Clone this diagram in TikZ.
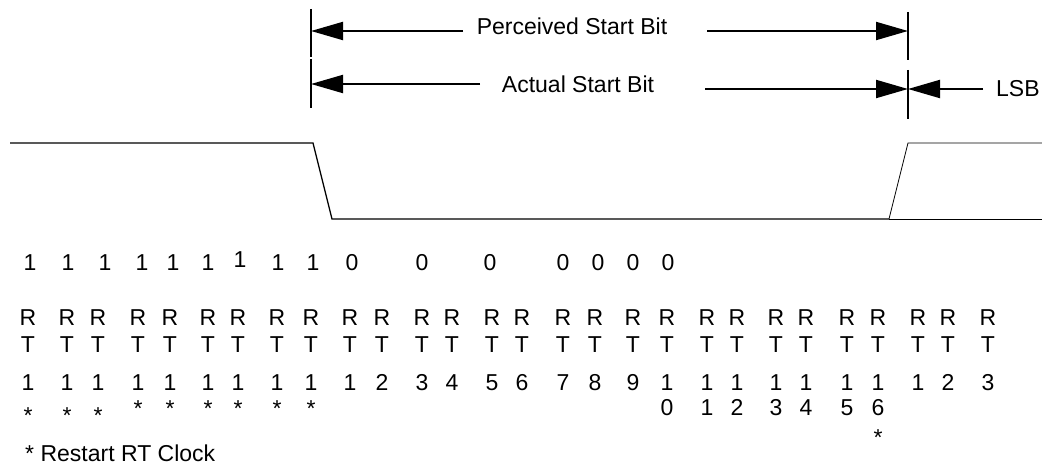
\documentclass[tikz,border=0pt]{standalone}
\usepackage{fontspec}
\setmainfont{Liberation Sans}
\usetikzlibrary{arrows.meta,positioning}

\begin{document}
\begin{tikzpicture}[x=1pt, y=-1pt,
  txt/.style={font=\fontsize{23}{27}\selectfont, inner sep=0pt, anchor=base},
  dimarr/.style={line width=2pt, -{Triangle[length=32pt,width=18pt]}},
  tickln/.style={line width=2pt},
  wave/.style={line width=1.3pt},
  thinwave/.style={line width=0.8pt}]
  \useasboundingbox (0,0) rectangle (1042,468);

  \draw[tickln] (311,9) -- (311,57) (311,59) -- (311,108);
  \draw[tickln] (908,12) -- (908,60) (908,70) -- (908,119);
  \coordinate (percL) at (311,31);
  \coordinate (percR) at (908,31);
  \coordinate (actL) at (311,84);
  \coordinate (actR) at (908,89);
  \coordinate (percA) at (463,31);
  \coordinate (percB) at (707,31);
  \coordinate (actA) at (480,84);
  \coordinate (actB) at (705,89);
  \coordinate (lsbA) at (983,89);

  \node[txt] (perc) at (572,35) {Perceived Start Bit};
  \node[txt] (act) at (578,93) {Actual Start Bit};
  \node[txt, anchor=base west] (lsb) at (996,97) {LSB};
  \draw[dimarr] (percA) -- (percL);
  \draw[dimarr] (percB) -- (percR);
  \draw[dimarr] (actA) -- (actL);
  \draw[dimarr] (actB) -- (actR);
  \draw[dimarr] (lsbA) -- (actR);

  \draw[wave] (10,143) -- (313,143) -- (332,219) -- (889,219);
  \draw[thinwave] (889,219) -- (908,143) -- (1042,143);
  \draw[thinwave] (889,219) -- (1042,219);

  \foreach \x/\y/\b [count=\i] in {30/270/1,68/270/1,105/270/1,142/270/1,173/270/1,
      208/270/1,240/267/1,278/270/1,313/270/1,352/270/0,422/270/0,490/270/0,
      563/270/0,598/270/0,633/270/0,668/270/0}
    \node[txt] (b\i) at (\x,\y) {\b};

  \foreach \x/\d [count=\i] in {28/1,67/1,98/1,138/1,170/1,208/1,238/1,277/1,311/1,
      350/1,382/2,422/3,452/4,492/5,522/6,563/7,595/8,633/9,667/1,707/1,737/1,
      776/1,806/1,847/1,878/1,918/1,948/2,988/3} {
    \node[txt] (r\i) at (\x,325) {R};
    \node[txt] (t\i) at (\x,352) {T};
    \node[txt] (n\i) at (\x,390) {\d};
  }
  \foreach \i/\d in {19/0,20/1,21/2,22/3,23/4,24/5,25/6}
    \node[txt] (m\i) at (n\i.base |- 0,415) {\d};
  \foreach \i/\y in {1/423,2/423,3/423,4/416,5/416,6/416,7/416,8/416,9/416,25/445}
    \node[txt] (s\i) at (n\i.base |- 0,\y) {*};

  \node[txt, anchor=base west] (note) at (25,461) {* Restart RT Clock};
\end{tikzpicture}
\end{document}
